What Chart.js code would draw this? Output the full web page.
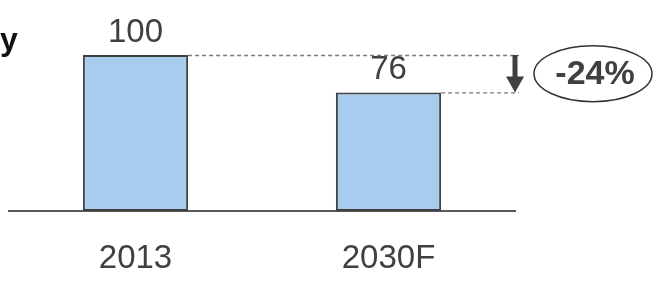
<!DOCTYPE html>
<html>
<head>
<meta charset="utf-8">
<script src="https://cdn.jsdelivr.net/npm/chart.js@4"></script>
<style>
  body { margin: 0; background: #fff; }
  #wrap { width: 654px; height: 284px; position: relative; }
</style>
</head>
<body>
<div id="wrap"><canvas id="bar-chart"></canvas></div>
<script>
const categories = ["2013", "2030F"];
const values = [100, 76];
const change_label = "-24%";
const title_text = "y";

const text_color = "#404040";
const font_family = "'Liberation Sans', Arial, sans-serif";

// value labels, dashed guides, arrow and the change bubble
const overlayPlugin = {
  id: "overlay",
  afterDatasetsDraw(chart) {
    const ctx = chart.ctx;
    const area = chart.chartArea;
    const bars = chart.getDatasetMeta(0).data;
    const yScale = chart.scales.y;

    ctx.save();

    // title fragment at the left
    ctx.fillStyle = "#111";
    ctx.font = "bold 32px " + font_family;
    ctx.textAlign = "left";
    ctx.textBaseline = "alphabetic";
    ctx.fillText(title_text, 0, 50);

    // value labels
    ctx.fillStyle = text_color;
    ctx.font = "33px " + font_family;
    ctx.textAlign = "center";
    bars.forEach((bar, i) => {
      ctx.fillText(values[i], bar.x, bar.y - 13);
    });

    // dashed guide lines
    const arrowX = area.right;
    const yTop = yScale.getPixelForValue(values[0]);
    const yBot = yScale.getPixelForValue(values[1]);
    ctx.strokeStyle = "#7a7a7a";
    ctx.lineWidth = 1.3;
    ctx.setLineDash([4, 3]);
    ctx.beginPath();
    ctx.moveTo(bars[0].x + bars[0].width / 2, yTop + 0.5);
    ctx.lineTo(arrowX + 4, yTop + 0.5);
    ctx.moveTo(bars[1].x + bars[1].width / 2, yBot + 0.5);
    ctx.lineTo(arrowX + 4, yBot + 0.5);
    ctx.stroke();
    ctx.setLineDash([]);

    // down arrow
    ctx.strokeStyle = text_color;
    ctx.fillStyle = text_color;
    ctx.lineWidth = 5;
    ctx.beginPath();
    ctx.moveTo(arrowX, yTop);
    ctx.lineTo(arrowX, yBot - 14);
    ctx.stroke();
    ctx.beginPath();
    ctx.moveTo(arrowX - 9, yBot - 16);
    ctx.lineTo(arrowX + 9, yBot - 16);
    ctx.lineTo(arrowX, yBot);
    ctx.closePath();
    ctx.fill();

    // change bubble
    const cx = area.right + 78;
    const cy = (yTop + yBot) / 2;
    ctx.strokeStyle = "#333";
    ctx.lineWidth = 1.5;
    ctx.beginPath();
    ctx.ellipse(cx, cy, 59, 28, 0, 0, Math.PI * 2);
    ctx.stroke();

    ctx.fillStyle = text_color;
    ctx.font = "bold 34px " + font_family;
    ctx.textAlign = "center";
    ctx.textBaseline = "middle";
    ctx.fillText(change_label, cx + 2, cy + 1);

    ctx.restore();
  }
};

const bar_ctx = document.getElementById("bar-chart").getContext("2d");

new Chart(bar_ctx, {
  type: "bar",
  data: {
    labels: categories,
    datasets: [{
      data: values,
      backgroundColor: "#A7CCED",
      borderColor: "#404040",
      borderWidth: 2,
      borderSkipped: false,
      barPercentage: 0.416,
      categoryPercentage: 1
    }]
  },
  options: {
    responsive: true,
    maintainAspectRatio: false,
    animation: false,
    layout: {
      padding: { left: 9, right: 139, top: 55, bottom: 0 }
    },
    plugins: {
      legend: { display: false },
      tooltip: { enabled: false }
    },
    scales: {
      x: {
        grid: { display: false, drawTicks: false },
        border: { display: true, color: "#595959", width: 2 },
        ticks: {
          color: text_color,
          padding: 28,
          font: { family: font_family, size: 33 }
        },
        afterFit(scale) {
          scale.height = 73;
        }
      },
      y: {
        display: false,
        min: 0,
        max: 100
      }
    }
  },
  plugins: [overlayPlugin]
});
</script>
</body>
</html>
